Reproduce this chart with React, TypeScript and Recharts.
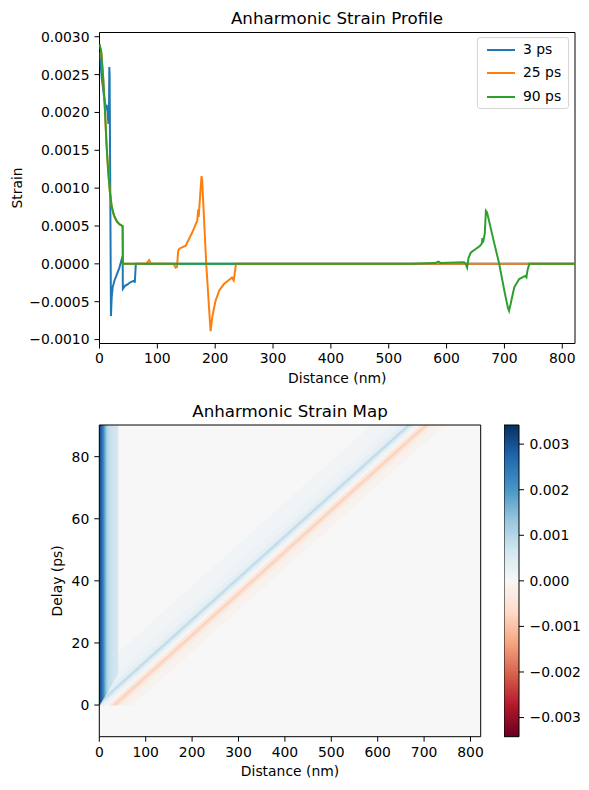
import React from 'react';
import {
  LineChart,
  Line,
  XAxis,
  YAxis,
  Legend,
  Label,
  ComposedChart,
  ReferenceArea,
} from 'recharts';

const FONT = 'DejaVu Sans';

// ---------- top panel: strain profiles (distance nm -> strain) ----------
const dist3ps = [0, 4, 8, 11, 12.5, 14, 15.5, 16.5, 17, 17.5, 19.8, 21, 22.7, 26, 30, 34, 38.7, 40, 40.4, 44, 48.5, 54, 60, 61, 62.8, 822];
const strain3ps = [0.0028, 0.00245, 0.0022, 0.00207, 0.0021, 0.002, 0.00185, 0.0021, 0.0026, 0.0025, -0.00069, -0.00045, -0.00031, -0.00022, -0.00014, -0.00006, 0.00007, 0.0001, -0.00033, -0.00029, -0.00027, -0.00024, -0.00022, -0.00025, 0, 0];

const dist25ps = [0, 3, 6, 9, 12, 15, 18, 21, 25, 30, 35, 40, 40.4, 80, 84, 86, 89, 128, 131.7, 134, 136, 138, 149, 160, 169, 170.7, 171.5, 173, 176.4, 177.5, 184.5, 192, 195, 200.5, 207, 214.8, 229, 232, 236, 822];
const strain25ps = [0.0029, 0.0028, 0.0025, 0.0021, 0.0016, 0.00122, 0.00095, 0.00076, 0.00064, 0.00056, 0.00052, 0.0005, 0, 0, 0.00003, 0.00005, 0, 0, -0.00005, -0.00004, 0.00017, 0.0002, 0.00024, 0.00041, 0.00057, 0.00072, 0.00062, 0.0008, 0.00116, 0.0011, 0, -0.00089, -0.0007, -0.00049, -0.00035, -0.00027, -0.00018, -0.00022, 0, 0];

const dist90ps = [0, 3, 6, 9, 12, 15, 18, 21, 25, 30, 35, 40, 40.4, 540, 580, 586, 590, 630, 633, 635.5, 638, 642, 651, 658, 661, 662, 663, 666, 668, 670, 680, 691, 700, 706, 708, 711, 717, 725.5, 735.8, 738, 740, 743, 822];
const strain90ps = [0.0029, 0.0028, 0.0025, 0.0021, 0.0016, 0.00122, 0.00095, 0.00076, 0.00064, 0.00056, 0.00052, 0.0005, 0, 0, 0.00001, 0.00003, 0.00001, 0.00002, 0, -0.00005, 0.00008, 0.00015, 0.0002, 0.00024, 0.00027, 0.00034, 0.00028, 0.0004, 0.0007, 0.00068, 0.00035, 0, -0.00036, -0.00058, -0.00062, -0.00052, -0.00031, -0.0002, -0.00016, -0.00018, -0.00008, 0, 0];

const seriesNames = ['3 ps', '25 ps', '90 ps'];
const distTicks = [0, 100, 200, 300, 400, 500, 600, 700, 800];
const strainTicks = [-0.001, -0.0005, 0, 0.0005, 0.001, 0.0015, 0.002, 0.0025, 0.003];

// ---------- bottom panel: strain map ----------
const delayTicks = [0, 20, 40, 60, 80];
const cbarTicks = [-0.003, -0.002, -0.001, 0, 0.001, 0.002, 0.003];

const filmEdges = [0, 2, 4, 6, 8, 10, 12, 14, 16, 18, 20, 22, 24, 26, 28, 30, 32, 34, 36, 38, 40];
const filmStrain = [0.0031, 0.003, 0.0028, 0.0026, 0.0023, 0.002, 0.0017, 0.0014, 0.0012, 0.001, 0.0009, 0.00085, 0.0008, 0.00076, 0.00073, 0.0007, 0.00068, 0.00066, 0.00064, 0.00062];

// travelling pulse in the substrate: band edges (nm, relative to the front) and strain
const waveEdges = [-80, -36, -16, -6, -2, 4, 10, 18, 26, 34, 40, 46, 56, 76];
const waveStrain = [0.00012, 0.0002, 0.0003, 0.00055, 0.0009, 0.0005, 0.0002, -0.00005, -0.0004, -0.0008, -0.0006, -0.00025, -0.00012];

// colour bar ends
const cbarLevels = [-0.0034, 0.0034];

const FILM_V = 4; // nm/ps
const SUB_V = 7.45; // nm/ps
const FRONT_X0 = -4.7; // nm at t = 0
const T_MIN = -10.2;
const T_MAX = 90.2;
const X_MAX = 822;
const VMAX = 0.00342;

const rdbu = ['#67001f', '#b2182b', '#d6604d', '#f4a582', '#fddbc7', '#f7f7f7', '#d1e5f0', '#92c5de', '#4393c3', '#2166ac', '#053061'];

const hex = (h: string) => [1, 3, 5].map((i) => parseInt(h.slice(i, i + 2), 16));
const strainColor = (v: number) => {
  const t = Math.min(1, Math.max(0, (v + VMAX) / (2 * VMAX))) * 10;
  const i = Math.min(9, Math.floor(t));
  const f = t - i;
  const a = hex(rdbu[i]);
  const b = hex(rdbu[i + 1]);
  return `rgb(${a.map((c, k) => Math.round(c + (b[k] - c) * f)).join(',')})`;
};

const zip = (xs: number[], ys: number[]) => xs.map((d, i) => ({ d, s: ys[i] }));

const fmtStrain = (v: number) => (v < 0 ? '\u2212' : '') + Math.abs(v).toFixed(4);
const fmtCbar = (v: number) => (v < 0 ? '\u2212' : '') + Math.abs(v).toFixed(3);

const tickStyle = { fill: '#000', fontSize: 13.9, fontFamily: FONT };
const textStyle = { fill: '#000', fontSize: 13.9, fontFamily: FONT };

const xLabel = (text: string) => (p: any) => {
  const vb = p.viewBox;
  return (
    <text x={vb.x + vb.width / 2} y={vb.y + 39.5} textAnchor="middle" style={textStyle}>
      {text}
    </text>
  );
};

const yLabel = (text: string, x: number) => (p: any) => {
  const vb = p.viewBox;
  const cy = vb.y + vb.height / 2;
  return (
    <text x={x} y={cy} textAnchor="middle" transform={`rotate(-90, ${x}, ${cy})`} style={textStyle}>
      {text}
    </text>
  );
};

// parallelogram inside the reference-area box: bottom edge [xa, xb], shifted by `shift` at the top
const bandShape = (xa: number, xb: number, shift: number) => (p: any) => {
  const { x, y, width, height, fill } = p;
  const span = xb + shift - xa;
  const px = (d: number) => x + ((d - xa) / span) * width;
  const path = `M${px(xa)},${y + height}L${px(xb)},${y + height}L${px(xb + shift)},${y}L${px(xa + shift)},${y}Z`;
  return <path d={path} fill={fill} stroke={fill} strokeWidth={0.6} clipPath={p.clipPath} />;
};

const ProfileLegend = (props: any) => {
  const items = [...(props.payload || [])].sort(
    (a: any, b: any) => seriesNames.indexOf(a.value) - seriesNames.indexOf(b.value),
  );
  return (
    <div
      style={{
        width: 92,
        height: 72,
        boxSizing: 'border-box',
        border: '1px solid #d5d5d5',
        borderRadius: 3,
        background: 'rgba(255,255,255,0.8)',
        paddingLeft: 9,
      }}
    >
      {items.map((e: any) => (
        <div key={e.value} style={{ display: 'flex', alignItems: 'center', height: 23.5 }}>
          <svg width={28} height={6}>
            <line x1={0} y1={3} x2={28} y2={3} stroke={e.color} strokeWidth={2} />
          </svg>
          <span style={{ marginLeft: 8, fontSize: 13.9, lineHeight: 1, color: '#000', fontFamily: FONT }}>{e.value}</span>
        </div>
      ))}
    </div>
  );
};

export default function App() {
  const shift = SUB_V * T_MAX;
  const cbarData = cbarLevels.map((v) => ({ c: 0.5, v }));
  return (
    <div style={{ position: 'absolute', left: 0, top: 0, width: 589, height: 790, background: '#fff', fontFamily: FONT }}>
      <svg width={0} height={0} style={{ position: 'absolute' }}>
        <defs>
          <linearGradient id="rdbuGrad" x1="0" y1="1" x2="0" y2="0">
            {rdbu.map((c, i) => (
              <stop key={c} offset={i / 10} stopColor={c} />
            ))}
          </linearGradient>
        </defs>
      </svg>

      <div style={{ position: 'absolute', left: 0, top: 0 }}>
        <LineChart width={589} height={390} margin={{ top: 32.5, right: 14, bottom: 6.5, left: 0 }}>
          <XAxis
            type="number"
            dataKey="d"
            domain={[0, X_MAX]}
            ticks={distTicks}
            interval={0}
            allowDataOverflow
            height={40}
            tickSize={5}
            tickMargin={5}
            axisLine={false}
            tickLine={{ stroke: '#000' }}
            tick={tickStyle}
          >
            <Label content={xLabel('Distance (nm)')} />
          </XAxis>
          <YAxis
            type="number"
            domain={[-0.001052, 0.003056]}
            ticks={strainTicks}
            interval={0}
            allowDataOverflow
            width={99.5}
            tickSize={5}
            tickMargin={5}
            axisLine={false}
            tickLine={{ stroke: '#000' }}
            tick={tickStyle}
            tickFormatter={fmtStrain}
          >
            <Label content={yLabel('Strain', 22)} />
          </YAxis>
          <ReferenceArea x1={0} x2={X_MAX} y1={-0.001052} y2={0.003056} fill="none" stroke="#000" strokeWidth={1} ifOverflow="visible" />
          <Line data={zip(dist3ps, strain3ps)} dataKey="s" name={seriesNames[0]} stroke="#1f77b4" strokeWidth={2} dot={false} isAnimationActive={false} />
          <Line data={zip(dist25ps, strain25ps)} dataKey="s" name={seriesNames[1]} stroke="#ff7f0e" strokeWidth={2} dot={false} isAnimationActive={false} />
          <Line data={zip(dist90ps, strain90ps)} dataKey="s" name={seriesNames[2]} stroke="#2ca02c" strokeWidth={2} dot={false} isAnimationActive={false} />
          <Legend
            content={ProfileLegend}
            layout="vertical"
            align="center"
            verticalAlign="middle"
            wrapperStyle={{ left: 477, top: 37, width: 92, height: 72 }}
          />
        </LineChart>
      </div>

      <div style={{ position: 'absolute', left: 0, top: 390 }}>
        <ComposedChart width={589} height={400} margin={{ top: 35, right: 108.3, bottom: 13.3, left: 0 }}>
          <XAxis
            type="number"
            dataKey="d"
            domain={[0, X_MAX]}
            ticks={distTicks}
            interval={0}
            allowDataOverflow
            height={40}
            tickSize={5}
            tickMargin={5}
            axisLine={false}
            tickLine={{ stroke: '#000' }}
            tick={tickStyle}
          >
            <Label content={xLabel('Distance (nm)')} />
          </XAxis>
          <YAxis
            type="number"
            domain={[T_MIN, T_MAX]}
            ticks={delayTicks}
            interval={0}
            allowDataOverflow
            width={99.3}
            tickSize={5}
            tickMargin={5}
            axisLine={false}
            tickLine={{ stroke: '#000' }}
            tick={tickStyle}
          >
            <Label content={yLabel('Delay (ps)', 62)} />
          </YAxis>
          <ReferenceArea x1={0} x2={X_MAX} y1={T_MIN} y2={T_MAX} fill={strainColor(0)} fillOpacity={1} stroke="none" ifOverflow="hidden" />
          {waveStrain.map((v, i) => {
            const xa = FRONT_X0 + waveEdges[i];
            const xb = FRONT_X0 + waveEdges[i + 1];
            return (
              <ReferenceArea
                key={`w${i}`}
                x1={xa}
                x2={xb + shift}
                y1={0}
                y2={T_MAX}
                fill={strainColor(v)}
                fillOpacity={1}
                ifOverflow="hidden"
                shape={bandShape(xa, xb, shift)}
              />
            );
          })}
          {filmStrain.map((v, i) => (
            <ReferenceArea
              key={`f${i}`}
              x1={filmEdges[i]}
              x2={filmEdges[i + 1]}
              y1={(filmEdges[i] + filmEdges[i + 1]) / 2 / FILM_V}
              y2={T_MAX}
              fill={strainColor(v)}
              fillOpacity={1}
              stroke={strainColor(v)}
              strokeWidth={0.6}
              ifOverflow="hidden"
            />
          ))}
          <ReferenceArea x1={0} x2={X_MAX} y1={T_MIN} y2={T_MAX} fill="none" stroke="#000" strokeWidth={1} ifOverflow="visible" />
        </ComposedChart>
      </div>

      <div style={{ position: 'absolute', left: 504, top: 390 }}>
        <ComposedChart width={85} height={400} data={cbarData} margin={{ top: 35, right: 0, bottom: 52.3, left: 0 }}>
          <XAxis
            type="number"
            dataKey="c"
            domain={[0, 1]}
            ticks={[0, 1]}
            allowDataOverflow
            height={1}
            tick={false}
            tickLine={false}
            axisLine={false}
          />
          <YAxis
            type="number"
            dataKey="v"
            orientation="right"
            domain={[-VMAX, VMAX]}
            ticks={cbarTicks}
            interval={0}
            allowDataOverflow
            width={70}
            tickSize={5}
            tickMargin={5.5}
            axisLine={false}
            tickLine={{ stroke: '#000' }}
            tick={tickStyle}
            tickFormatter={fmtCbar}
          />
          <ReferenceArea x1={0} x2={1} y1={-VMAX} y2={VMAX} fill="url(#rdbuGrad)" fillOpacity={1} stroke="#000" strokeWidth={1} ifOverflow="visible" />
        </ComposedChart>
      </div>

      <svg width={589} height={790} style={{ position: 'absolute', left: 0, top: 0, pointerEvents: 'none' }}>
        <text x={337} y={24} textAnchor="middle" style={{ fill: '#000', fontSize: 16.7, fontFamily: FONT }}>
          Anharmonic Strain Profile
        </text>
        <text x={290} y={417} textAnchor="middle" style={{ fill: '#000', fontSize: 16.7, fontFamily: FONT }}>
          Anharmonic Strain Map
        </text>
      </svg>
    </div>
  );
}
